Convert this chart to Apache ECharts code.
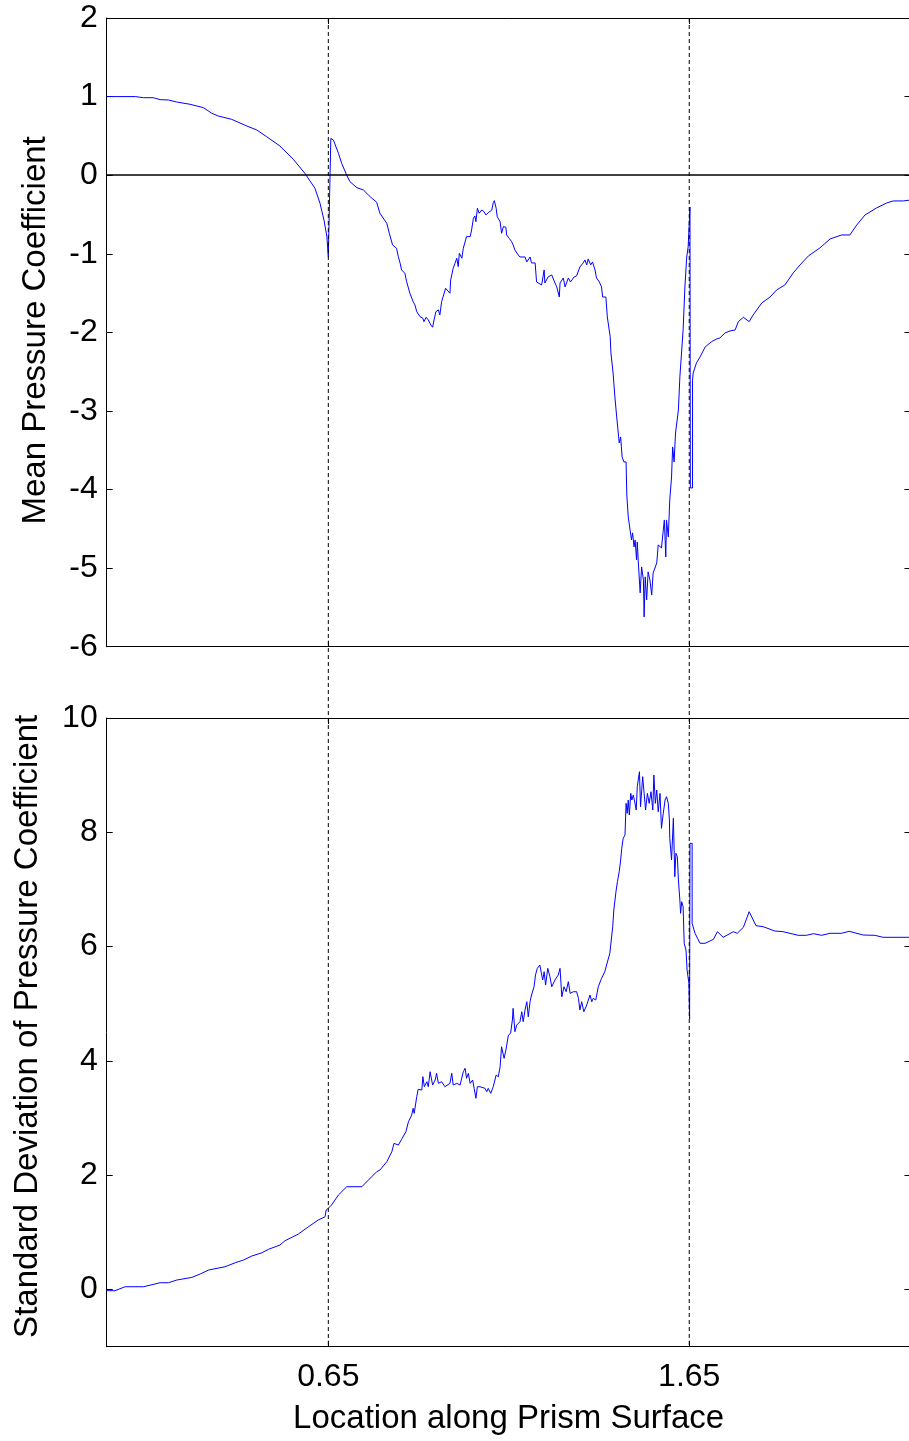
<!DOCTYPE html>
<html><head><meta charset="utf-8">
<script src="https://cdn.jsdelivr.net/npm/echarts@6/dist/echarts.min.js"></script>
<style>html,body{margin:0;padding:0;background:#fff}#c{width:909px;height:1441px}</style>
</head><body><div id="c"></div>
<script>
// ---- data ----
const xRange = [0.036, 2.263];
const xTicks = [0.65, 1.65];
const dividers = [0.65, 1.65];
const meanTicks = [-6, -5, -4, -3, -2, -1, 0, 1, 2];
const stdTicks = [0, 2, 4, 6, 8, 10];

const meanX = [0.036,0.115,0.138,0.165,0.184,0.207,0.230,0.267,0.304,0.327,0.345,0.382,0.424,0.452,0.479,0.516,0.553,0.585,0.613,0.627,0.638,0.646,0.650,0.655,0.657,0.664,0.678,0.687,0.701,0.710,0.729,0.747,0.766,0.784,0.793,0.812,0.819,0.828,0.839,0.844,0.849,0.853,0.862,0.867,0.876,0.885,0.890,0.895,0.904,0.912,0.915,0.921,0.927,0.932,0.934,0.939,0.943,0.948,0.955,0.959,0.964,0.969,0.975,0.980,0.987,0.989,0.992,0.996,1.001,1.006,1.010,1.013,1.020,1.024,1.029,1.033,1.043,1.047,1.052,1.056,1.059,1.063,1.068,1.075,1.081,1.087,1.093,1.103,1.107,1.110,1.115,1.118,1.126,1.130,1.135,1.142,1.144,1.151,1.158,1.162,1.167,1.176,1.181,1.186,1.195,1.200,1.209,1.213,1.223,1.227,1.241,1.248,1.250,1.259,1.269,1.278,1.283,1.290,1.292,1.301,1.306,1.315,1.321,1.331,1.338,1.347,1.356,1.361,1.366,1.370,1.377,1.382,1.389,1.393,1.401,1.407,1.410,1.419,1.423,1.431,1.433,1.439,1.444,1.449,1.453,1.456,1.460,1.464,1.469,1.475,1.477,1.481,1.486,1.490,1.493,1.497,1.500,1.504,1.506,1.509,1.514,1.518,1.523,1.525,1.528,1.532,1.536,1.541,1.546,1.550,1.555,1.560,1.564,1.573,1.578,1.581,1.585,1.587,1.592,1.596,1.601,1.604,1.608,1.612,1.615,1.620,1.624,1.629,1.633,1.638,1.643,1.647,1.652,1.653,1.659,1.659,1.661,1.670,1.680,1.694,1.712,1.726,1.735,1.749,1.763,1.777,1.786,1.800,1.816,1.827,1.851,1.874,1.892,1.915,1.938,1.957,1.980,2.012,2.040,2.072,2.095,2.114,2.137,2.169,2.197,2.215,2.243,2.263];
const meanCp = [1.000,1.000,0.986,0.986,0.961,0.957,0.931,0.902,0.859,0.788,0.753,0.711,0.626,0.575,0.490,0.371,0.202,0.024,-0.167,-0.358,-0.570,-0.782,-1.037,-1.037,0.469,0.448,0.279,0.151,0.000,-0.083,-0.159,-0.188,-0.274,-0.345,-0.485,-0.612,-0.739,-0.888,-0.930,-1.037,-1.121,-1.206,-1.248,-1.355,-1.503,-1.609,-1.651,-1.737,-1.800,-1.821,-1.864,-1.808,-1.842,-1.821,-1.906,-1.935,-1.842,-1.737,-1.715,-1.779,-1.609,-1.588,-1.439,-1.419,-1.503,-1.333,-1.270,-1.184,-1.121,-1.057,-1.164,-0.994,-1.057,-0.930,-0.910,-0.782,-0.782,-0.697,-0.548,-0.519,-0.592,-0.421,-0.485,-0.443,-0.464,-0.506,-0.477,-0.443,-0.350,-0.324,-0.421,-0.528,-0.592,-0.739,-0.655,-0.663,-0.761,-0.803,-0.846,-0.888,-0.952,-1.015,-1.041,-1.053,-1.041,-1.104,-1.041,-1.117,-1.117,-1.359,-1.397,-1.206,-1.372,-1.295,-1.270,-1.372,-1.422,-1.550,-1.372,-1.308,-1.422,-1.308,-1.359,-1.295,-1.282,-1.168,-1.117,-1.079,-1.142,-1.066,-1.142,-1.104,-1.206,-1.308,-1.359,-1.422,-1.550,-1.550,-1.804,-2.055,-2.262,-2.517,-2.822,-3.076,-3.076,-3.407,-3.331,-3.585,-3.649,-3.649,-4.069,-4.349,-4.361,-4.641,-4.552,-4.730,-4.641,-4.896,-4.667,-4.934,-5.315,-4.985,-5.150,-5.621,-5.112,-5.405,-5.048,-5.150,-5.341,-5.061,-5.061,-4.934,-4.705,-4.743,-4.743,-4.387,-4.858,-4.387,-4.603,-4.132,-3.840,-3.458,-3.649,-3.280,-3.280,-2.987,-2.567,-2.567,-1.969,-1.422,-1.041,-0.913,-0.405,-3.980,-3.980,-2.618,-2.517,-2.389,-2.313,-2.186,-2.118,-2.084,-2.071,-2.008,-1.982,-1.970,-1.864,-1.808,-1.864,-1.779,-1.626,-1.550,-1.461,-1.397,-1.244,-1.142,-1.028,-0.926,-0.812,-0.761,-0.761,-0.634,-0.506,-0.417,-0.354,-0.328,-0.328,-0.316];

const stdX = [0.036,0.059,0.087,0.138,0.184,0.207,0.230,0.272,0.295,0.318,0.364,0.392,0.415,0.438,0.466,0.484,0.516,0.530,0.567,0.595,0.622,0.641,0.644,0.650,0.659,0.678,0.701,0.743,0.761,0.784,0.793,0.812,0.826,0.832,0.844,0.853,0.865,0.872,0.881,0.885,0.888,0.895,0.899,0.909,0.912,0.916,0.923,0.927,0.932,0.936,0.939,0.946,0.950,0.955,0.964,0.973,0.987,0.992,0.996,1.006,1.015,1.024,1.029,1.033,1.038,1.043,1.050,1.054,1.059,1.063,1.070,1.084,1.089,1.093,1.100,1.107,1.115,1.121,1.126,1.130,1.137,1.142,1.149,1.155,1.160,1.162,1.167,1.172,1.181,1.186,1.190,1.195,1.200,1.204,1.209,1.213,1.220,1.224,1.229,1.236,1.241,1.244,1.248,1.252,1.258,1.264,1.269,1.278,1.287,1.292,1.297,1.303,1.309,1.315,1.320,1.329,1.338,1.343,1.347,1.352,1.358,1.366,1.375,1.380,1.384,1.391,1.398,1.407,1.416,1.421,1.425,1.430,1.435,1.438,1.441,1.447,1.451,1.456,1.460,1.463,1.467,1.472,1.475,1.478,1.481,1.484,1.488,1.491,1.495,1.498,1.503,1.506,1.512,1.515,1.521,1.525,1.529,1.534,1.539,1.544,1.549,1.552,1.556,1.560,1.564,1.569,1.573,1.578,1.583,1.587,1.592,1.595,1.596,1.601,1.606,1.610,1.613,1.617,1.620,1.624,1.626,1.629,1.633,1.636,1.641,1.644,1.649,1.651,1.652,1.658,1.658,1.666,1.680,1.694,1.717,1.728,1.744,1.772,1.783,1.800,1.816,1.835,1.855,1.887,1.910,1.952,1.975,1.994,2.017,2.040,2.072,2.093,2.132,2.164,2.187,2.263];
const stdCp = [-0.02,-0.02,0.049,0.049,0.119,0.119,0.166,0.213,0.271,0.341,0.399,0.469,0.516,0.586,0.644,0.703,0.779,0.854,0.971,1.099,1.216,1.274,1.391,1.421,1.479,1.654,1.799,1.799,1.916,2.061,2.091,2.236,2.411,2.558,2.528,2.628,2.761,2.936,3.053,3.171,3.083,3.374,3.503,3.491,3.724,3.549,3.636,3.549,3.811,3.811,3.578,3.666,3.783,3.608,3.636,3.549,3.608,3.783,3.578,3.608,3.578,3.811,3.871,3.696,3.783,3.608,3.666,3.521,3.346,3.549,3.549,3.521,3.461,3.521,3.433,3.549,3.753,3.724,3.898,4.248,4.045,4.191,4.453,4.483,4.716,4.920,4.511,4.628,4.686,4.861,4.686,4.891,5.036,4.773,5.036,5.153,5.298,5.503,5.620,5.678,5.708,5.416,5.561,5.328,5.620,5.473,5.298,5.416,5.503,5.620,5.123,5.298,5.211,5.386,5.183,5.211,5.211,5.095,4.891,5.036,4.861,4.978,5.153,5.036,5.095,5.066,5.298,5.445,5.561,5.678,5.708,5.883,5.870,6.348,6.640,6.961,7.136,7.311,7.515,7.720,7.895,7.953,8.507,8.332,8.565,8.303,8.682,8.565,8.653,8.565,8.390,8.798,9.060,8.448,8.973,8.682,8.390,8.682,8.507,8.710,8.390,9.003,8.507,8.740,8.360,8.682,8.070,8.332,8.565,8.623,8.507,8.215,7.895,7.515,8.245,7.223,7.633,7.573,7.165,6.815,6.583,6.786,6.698,6.058,5.940,5.591,5.358,4.733,7.807,7.807,6.408,6.233,6.058,6.058,6.128,6.261,6.163,6.261,6.233,6.338,6.611,6.366,6.348,6.273,6.261,6.198,6.198,6.226,6.198,6.233,6.233,6.268,6.203,6.198,6.163,6.163];

// ---- chart ----
const FONT = "'Liberation Sans', Arial, Helvetica, sans-serif";
const BLACK = '#000';
const txt = (size) => ({ fontFamily: FONT, fontSize: size, color: BLACK });
const L = 106.7, W = 803.8, H = 628.7;

function xAxisFor(gridIndex, position, labels, name) {
  return {
    type: 'value', gridIndex, position, min: xRange[0], max: xRange[1],
    axisLine: { show: true, onZero: false, lineStyle: { color: BLACK, width: 1 } },
    axisTick: { show: true, inside: true, length: 6, customValues: xTicks, lineStyle: { color: BLACK, width: 1 } },
    axisLabel: Object.assign({ show: labels, customValues: xTicks, margin: 14, formatter: v => v.toFixed(2) }, txt(32)),
    splitLine: { show: false },
    name: name || '', nameLocation: 'middle', nameGap: 56, nameTextStyle: txt(33)
  };
}
function yAxisFor(gridIndex, position, min, max, ticks, labels, name, gap, pad) {
  return {
    type: 'value', gridIndex, position, min, max,
    axisLine: { show: true, onZero: false, lineStyle: { color: BLACK, width: 1 } },
    axisTick: { show: true, inside: true, length: 6, customValues: ticks, lineStyle: { color: BLACK, width: 1 } },
    axisLabel: Object.assign({ show: labels, customValues: ticks, margin: 9 }, txt(32)),
    splitLine: { show: false },
    name: name || '', nameLocation: 'middle', nameGap: gap || 50,
    nameTextStyle: Object.assign({ padding: pad || 0 }, txt(33))
  };
}

const pairs = (xs, ys) => xs.map((x, i) => [x, ys[i]]);

const option = {
  animation: false,
  backgroundColor: '#fff',
  grid: [
    { left: L, top: 18, width: W, height: H, containLabel: false, outerBoundsMode: 'none' },
    { left: L, top: 718, width: W, height: H, containLabel: false, outerBoundsMode: 'none' },
    { left: L, top: 18, width: W, height: 718 + H - 18, containLabel: false, outerBoundsMode: 'none' }
  ],
  xAxis: [
    xAxisFor(0, 'bottom', false),
    xAxisFor(0, 'top', false),
    xAxisFor(1, 'bottom', true, 'Location along Prism Surface'),
    xAxisFor(1, 'top', false),
    { type: 'value', gridIndex: 2, min: xRange[0], max: xRange[1], show: false }
  ],
  yAxis: [
    yAxisFor(0, 'left', -6, 2, meanTicks, true, 'Mean Pressure Coefficient', 54, [0, 0, 0, 4]),
    yAxisFor(0, 'right', -6, 2, meanTicks, false),
    yAxisFor(1, 'left', -1, 10, stdTicks, true, 'Standard Deviation of Pressure Coefficient', 62, [0, 0, 0, 12]),
    yAxisFor(1, 'right', -1, 10, stdTicks, false),
    { type: 'value', gridIndex: 2, min: 0, max: 1, show: false }
  ],
  series: [
    {
      type: 'line', xAxisIndex: 0, yAxisIndex: 0, data: pairs(meanX, meanCp),
      symbol: 'none', showSymbol: false, lineStyle: { color: '#0000ff', width: 1 }, z: 3,
      markLine: { silent: true, symbol: ['none', 'none'], label: { show: false },
        lineStyle: { color: BLACK, width: 1.5, type: 'solid' }, data: [{ yAxis: 0 }] }
    },
    {
      type: 'line', xAxisIndex: 2, yAxisIndex: 2, data: pairs(stdX, stdCp),
      symbol: 'none', showSymbol: false, lineStyle: { color: '#0000ff', width: 1 }, z: 3
    }
  ].concat(dividers.map(d => ({
    type: 'line', xAxisIndex: 4, yAxisIndex: 4, data: [[d, 1], [d, 0]],
    symbol: 'none', showSymbol: false, lineStyle: { color: BLACK, width: 1, type: [4, 3] }, z: 4
  })))
};

const chart = echarts.init(document.getElementById('c'), null, { renderer: 'canvas' });
chart.setOption(option);
</script>
</body></html>
